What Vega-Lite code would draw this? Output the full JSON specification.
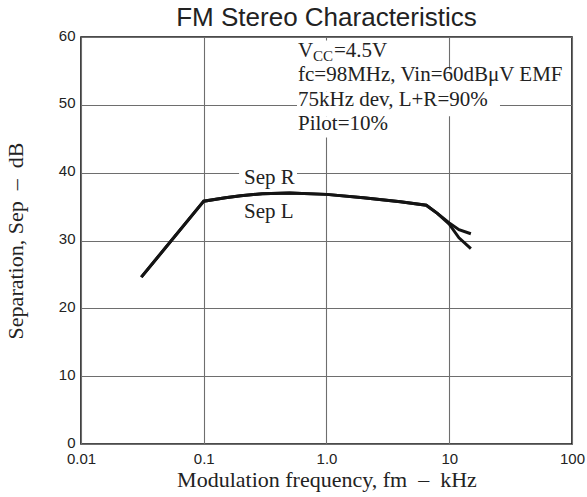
{
  "$schema": "https://vega.github.io/schema/vega-lite/v6.json",
  "width": 491,
  "height": 407,
  "autosize": {"type": "none"},
  "padding": {"left": 81, "top": 37, "right": 15, "bottom": 53},
  "background": "white",
  "title": {"text": "FM Stereo Characteristics", "font": "Liberation Sans", "fontSize": 26, "fontWeight": "normal", "color": "#222", "offset": -3},
  "config": {
    "view": {"stroke": "#111", "strokeWidth": 1.6},
    "axis": {"ticks": false, "domain": false, "grid": true, "gridColor": "#6e6e6e", "gridWidth": 1.1, "labelFont": "Liberation Sans", "labelFontSize": 15, "labelColor": "#222", "titleFont": "Liberation Serif", "titleFontSize": 22, "titleFontWeight": "normal", "titleColor": "#222", "labelOverlap": false, "labelFlush": false}
  },
  "datasets": {
    "curves": [
      {"f": 0.031, "sep": 24.6, "s": "R"}, {"f": 0.1, "sep": 35.8, "s": "R"}, {"f": 0.15, "sep": 36.3, "s": "R"}, {"f": 0.2, "sep": 36.6, "s": "R"}, {"f": 0.3, "sep": 36.9, "s": "R"}, {"f": 0.5, "sep": 37.0, "s": "R"}, {"f": 1.0, "sep": 36.8, "s": "R"}, {"f": 2.0, "sep": 36.3, "s": "R"}, {"f": 4.0, "sep": 35.7, "s": "R"}, {"f": 6.5, "sep": 35.2, "s": "R"}, {"f": 8.0, "sep": 34.0, "s": "R"}, {"f": 10, "sep": 32.6, "s": "R"}, {"f": 12, "sep": 31.6, "s": "R"}, {"f": 15, "sep": 31.0, "s": "R"},
      {"f": 0.031, "sep": 24.6, "s": "L"}, {"f": 0.1, "sep": 35.8, "s": "L"}, {"f": 0.15, "sep": 36.3, "s": "L"}, {"f": 0.2, "sep": 36.6, "s": "L"}, {"f": 0.3, "sep": 36.9, "s": "L"}, {"f": 0.5, "sep": 37.0, "s": "L"}, {"f": 1.0, "sep": 36.8, "s": "L"}, {"f": 2.0, "sep": 36.3, "s": "L"}, {"f": 4.0, "sep": 35.7, "s": "L"}, {"f": 6.5, "sep": 35.2, "s": "L"}, {"f": 8.0, "sep": 34.0, "s": "L"}, {"f": 10, "sep": 32.4, "s": "L"}, {"f": 12, "sep": 30.4, "s": "L"}, {"f": 15, "sep": 28.8, "s": "L"}
    ],
    "bg": [
      {"x": 0.575, "x2": 3.3, "y": 55.2, "y2": 59.5},
      {"x": 0.575, "x2": 95, "y": 52.0, "y2": 55.2},
      {"x": 0.575, "x2": 25.9, "y": 48.3, "y2": 52.0},
      {"x": 0.575, "x2": 3.4, "y": 45.2, "y2": 48.3},
      {"x": 0.194, "x2": 0.575, "y": 39.2, "y2": 41.5}
    ],
    "ann": [
      {"x": 0.586, "y": 57.05, "t": "V"},
      {"x": 1.15, "y": 57.05, "t": "=4.5V"},
      {"x": 0.586, "y": 53.5, "t": "fc=98MHz, Vin=60dBμV EMF"},
      {"x": 0.586, "y": 49.83, "t": "75kHz dev, L+R=90%"},
      {"x": 0.586, "y": 46.3, "t": "Pilot=10%"},
      {"x": 0.213, "y": 38.3, "t": "Sep R"},
      {"x": 0.213, "y": 33.3, "t": "Sep L"}
    ],
    "sub": [
      {"x": 0.776, "y": 56.4, "t": "CC"}
    ]
  },
  "layer": [
    {
      "data": {"name": "bg"},
      "mark": {"type": "rect", "fill": "white", "stroke": null},
      "encoding": {
        "x": {"field": "x", "type": "quantitative", "scale": {"type": "log", "domain": [0.01, 100]},
          "axis": {"values": [0.01, 0.1, 1, 10, 100], "labelExpr": "datum.value < 0.05 ? '0.01' : datum.value < 0.5 ? '0.1' : datum.value < 5 ? '1.0' : datum.value < 50 ? '10' : '100'", "labelPadding": 7, "title": "Modulation frequency, fm\u00a0\u00a0–\u00a0\u00a0kHz", "titlePadding": 3}},
        "x2": {"field": "x2"},
        "y": {"field": "y", "type": "quantitative", "scale": {"domain": [0, 60]},
          "axis": {"values": [0, 10, 20, 30, 40, 50, 60], "labelPadding": 6, "labelOffset": -2, "title": "Separation, Sep\u00a0\u00a0–\u00a0\u00a0dB", "titlePadding": 31}},
        "y2": {"field": "y2"}
      }
    },
    {
      "data": {"name": "curves"},
      "mark": {"type": "line", "color": "#141414", "strokeWidth": 3},
      "encoding": {
        "x": {"field": "f", "type": "quantitative"},
        "y": {"field": "sep", "type": "quantitative"},
        "detail": {"field": "s"}
      }
    },
    {
      "data": {"name": "ann"},
      "mark": {"type": "text", "font": "Liberation Serif", "fontSize": 21, "align": "left", "baseline": "alphabetic", "color": "#222"},
      "encoding": {
        "x": {"field": "x", "type": "quantitative"},
        "y": {"field": "y", "type": "quantitative"},
        "text": {"field": "t"}
      }
    },
    {
      "data": {"name": "sub"},
      "mark": {"type": "text", "font": "Liberation Serif", "fontSize": 15, "align": "left", "baseline": "alphabetic", "color": "#222"},
      "encoding": {
        "x": {"field": "x", "type": "quantitative"},
        "y": {"field": "y", "type": "quantitative"},
        "text": {"field": "t"}
      }
    }
  ]
}
